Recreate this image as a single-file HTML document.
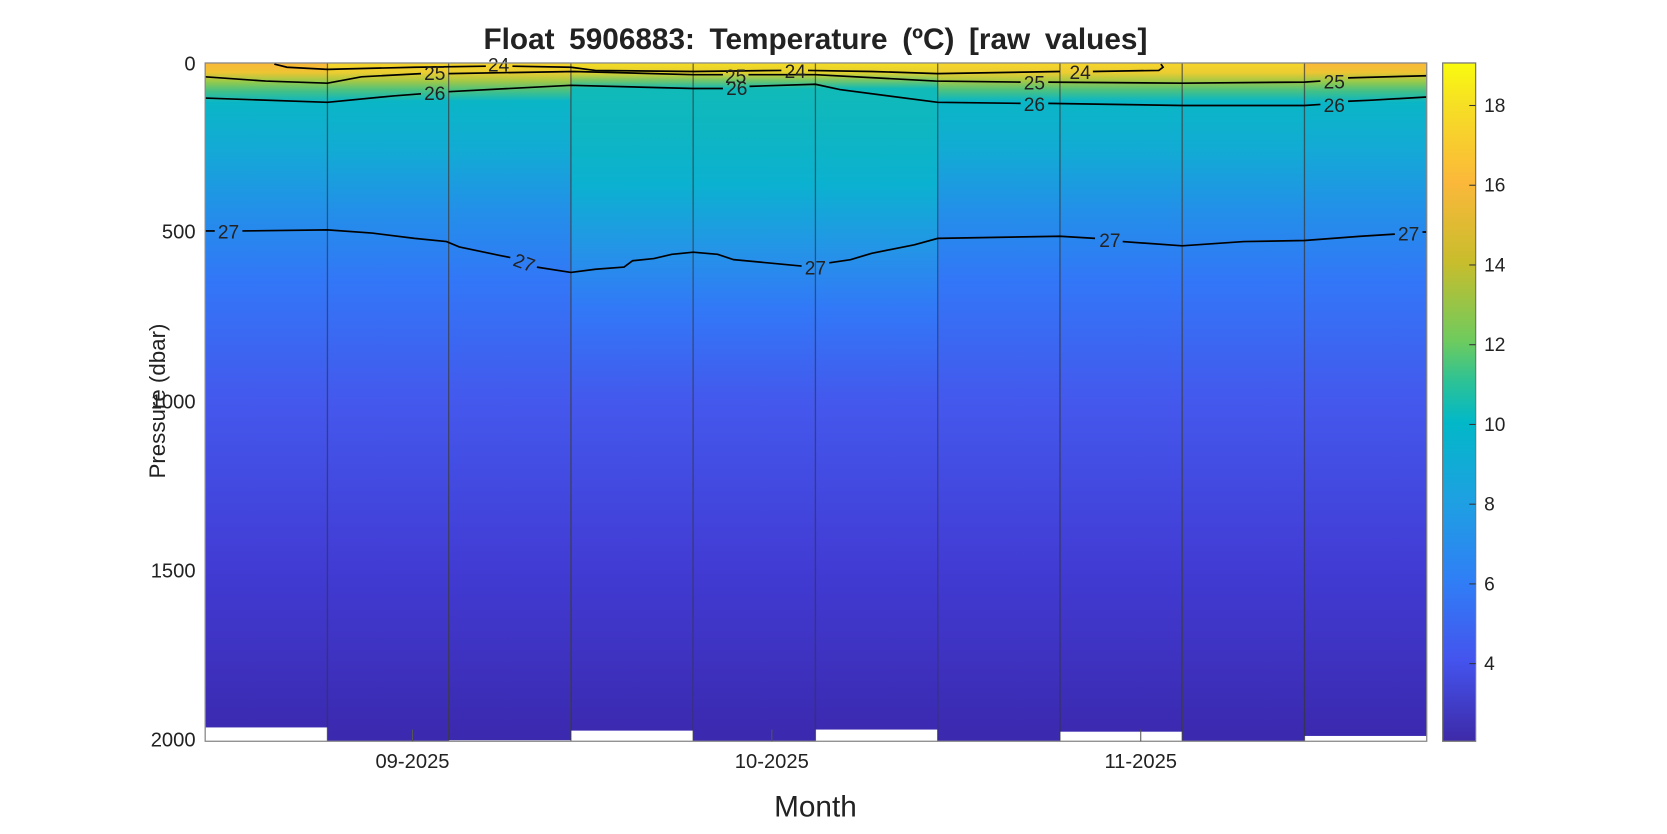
<!DOCTYPE html>
<html><head><meta charset="utf-8"><style>html,body{margin:0;padding:0;background:#fff}svg{display:block}</style></head>
<body>
<svg width="1667" height="834" viewBox="0 0 1568 784" xmlns="http://www.w3.org/2000/svg" font-family="Liberation Sans, sans-serif">
<defs>
<linearGradient id="g" gradientUnits="userSpaceOnUse" x1="0" y1="59" x2="0" y2="697">
<stop offset="0" stop-color="#f6d52a"/>
<stop offset="0.014" stop-color="#eccd32"/>
<stop offset="0.026" stop-color="#a8c843"/>
<stop offset="0.04" stop-color="#4cc27f"/>
<stop offset="0.056" stop-color="#0ab6c6"/>
<stop offset="0.13" stop-color="#12abd4"/>
<stop offset="0.22" stop-color="#238fe9"/>
<stop offset="0.32" stop-color="#3277f7"/>
<stop offset="0.5" stop-color="#4458ed"/>
<stop offset="0.75" stop-color="#413bd3"/>
<stop offset="1" stop-color="#3b29ae"/>
</linearGradient>
<linearGradient id="g2" gradientUnits="userSpaceOnUse" x1="0" y1="59" x2="0" y2="697">
<stop offset="0" stop-color="#f6dc25"/>
<stop offset="0.014" stop-color="#e4d02e"/>
<stop offset="0.026" stop-color="#70c66a"/>
<stop offset="0.038" stop-color="#10bab8"/>
<stop offset="0.18" stop-color="#0bb1d0"/>
<stop offset="0.27" stop-color="#2396e6"/>
<stop offset="0.36" stop-color="#3179f7"/>
<stop offset="0.5" stop-color="#4458ed"/>
<stop offset="0.75" stop-color="#413bd3"/>
<stop offset="1" stop-color="#3b29ae"/>
</linearGradient>
<linearGradient id="g3" gradientUnits="userSpaceOnUse" x1="0" y1="59" x2="0" y2="697">
<stop offset="0" stop-color="#fbb83a"/>
<stop offset="0.014" stop-color="#eec432"/>
<stop offset="0.028" stop-color="#94ca4c"/>
<stop offset="0.042" stop-color="#40c089"/>
<stop offset="0.058" stop-color="#0ab6c6"/>
<stop offset="0.13" stop-color="#14a9d6"/>
<stop offset="0.22" stop-color="#238fe9"/>
<stop offset="0.32" stop-color="#3277f7"/>
<stop offset="0.5" stop-color="#4458ed"/>
<stop offset="0.75" stop-color="#413bd3"/>
<stop offset="1" stop-color="#3b29ae"/>
</linearGradient>
<linearGradient id="cb" x1="0" y1="0" x2="0" y2="1">
<stop offset="0" stop-color="#f9fb0e"/>
<stop offset="0.06" stop-color="#f6e024"/>
<stop offset="0.176" stop-color="#fbb83a"/>
<stop offset="0.294" stop-color="#c8bd2c"/>
<stop offset="0.41" stop-color="#6ecb5e"/>
<stop offset="0.47" stop-color="#2cc296"/>
<stop offset="0.53" stop-color="#02b8c8"/>
<stop offset="0.647" stop-color="#1ea0e2"/>
<stop offset="0.765" stop-color="#307ef6"/>
<stop offset="0.88" stop-color="#4454ee"/>
<stop offset="1" stop-color="#3d2aa8"/>
</linearGradient>
</defs>

<text x="767" y="46" text-anchor="middle" font-size="28" font-weight="bold" fill="#222" word-spacing="6">Float 5906883: Temperature (ºC) [raw values]</text>

<rect x="193" y="59" width="115" height="625" fill="url(#g3)"/>
<rect x="308" y="59" width="114" height="638" fill="url(#g)"/>
<rect x="422" y="59" width="115" height="637" fill="url(#g)"/>
<rect x="537" y="59" width="115" height="628" fill="url(#g2)"/>
<rect x="652" y="59" width="115" height="638" fill="url(#g2)"/>
<rect x="767" y="59" width="115" height="627" fill="url(#g2)"/>
<rect x="882" y="59" width="115" height="638" fill="url(#g)"/>
<rect x="997" y="59" width="115" height="629" fill="url(#g)"/>
<rect x="1112" y="59" width="115" height="638" fill="url(#g)"/>
<rect x="1227" y="59" width="115" height="633" fill="url(#g3)"/>

<g stroke="#333" stroke-opacity="0.7" stroke-width="1.2">
<line x1="308" y1="59" x2="308" y2="697"/><line x1="422" y1="59" x2="422" y2="697"/>
<line x1="537" y1="59" x2="537" y2="697"/><line x1="652" y1="59" x2="652" y2="697"/>
<line x1="767" y1="59" x2="767" y2="697"/><line x1="882" y1="59" x2="882" y2="697"/>
<line x1="997" y1="59" x2="997" y2="697"/><line x1="1112" y1="59" x2="1112" y2="697"/>
<line x1="1227" y1="59" x2="1227" y2="697"/>
</g>

<g fill="none" stroke="#000" stroke-width="1.6">
<polyline points="258,60 270,63 308,65 390,63 457,62"/>
<polyline points="482,62 537,63 560,66 652,67 735,66"/>
<polyline points="760,66 820,67 882,69 997,67"/>
<polyline points="1028,67 1090,66 1094,63 1092,60"/>
<polyline points="193,72 250,76 308,78 340,72 396,69"/>
<polyline points="422,69 540,67 652,70 680,70"/>
<polyline points="704,70 767,70 880,76 960,77"/>
<polyline points="986,77 1112,78 1227,77 1242,76"/>
<polyline points="1268,73 1342,71"/>
<polyline points="193,92 308,96 370,90 396,88"/>
<polyline points="422,86 537,80 652,83 680,83"/>
<polyline points="705,81 767,79 790,84 882,96 960,97"/>
<polyline points="986,97 1112,99 1227,99 1242,98"/>
<polyline points="1268,95 1290,94 1342,91"/>
<polyline points="193,217 202,217"/>
<polyline points="228,217 308,216 350,219 390,224 420,227 432,232 470,240 480,242"/>
<polyline points="505,251 537,256 560,253 587,251 595,245 615,243 632,239 652,237 675,239 690,244 754,250"/>
<polyline points="780,247 800,244 820,238 860,230 882,224 997,222 1030,224"/>
<polyline points="1056,227 1112,231 1170,227 1227,226 1280,222 1312,220"/>
<polyline points="1338,218 1342,218"/>
</g>
<g font-size="18" fill="#222" text-anchor="middle">
<text x="469" y="67">24</text><text x="748" y="73">24</text><text x="1016" y="74">24</text>
<text x="409" y="75">25</text><text x="692" y="78">25</text><text x="973" y="84">25</text><text x="1255" y="83">25</text>
<text x="409" y="94">26</text><text x="693" y="89">26</text><text x="973" y="104">26</text><text x="1255" y="105">26</text>
<text x="215" y="224">27</text><text x="493" y="253" transform="rotate(20 493 247)">27</text><text x="767" y="258">27</text><text x="1044" y="232">27</text><text x="1325" y="226">27</text>
</g>

<rect x="193" y="59" width="1149" height="638" fill="none" stroke="#888" stroke-width="1.2"/>
<g stroke="#555" stroke-width="1">
<line x1="388" y1="697" x2="388" y2="686"/><line x1="726" y1="697" x2="726" y2="686"/><line x1="1073" y1="697" x2="1073" y2="686"/>
</g>
<g font-size="19" fill="#222" text-anchor="end">
<text x="184" y="66">0</text><text x="184" y="224">500</text><text x="184" y="384">1000</text><text x="184" y="543">1500</text><text x="184" y="702">2000</text>
</g>
<g font-size="19" fill="#222" text-anchor="middle">
<text x="388" y="722">09-2025</text><text x="726" y="722">10-2025</text><text x="1073" y="722">11-2025</text>
</g>
<text x="767" y="768" text-anchor="middle" font-size="28" fill="#222">Month</text>
<text transform="translate(155 377) rotate(-90)" text-anchor="middle" font-size="21" fill="#222">Pressure (dbar)</text>

<rect x="1357" y="59" width="31" height="638" fill="url(#cb)" stroke="#777" stroke-width="1.2"/>
<g stroke="#333" stroke-width="1">
<line x1="1382" y1="99" x2="1388" y2="99"/><line x1="1382" y1="174" x2="1388" y2="174"/><line x1="1382" y1="249" x2="1388" y2="249"/>
<line x1="1382" y1="324" x2="1388" y2="324"/><line x1="1382" y1="399" x2="1388" y2="399"/><line x1="1382" y1="474" x2="1388" y2="474"/>
<line x1="1382" y1="549" x2="1388" y2="549"/><line x1="1382" y1="624" x2="1388" y2="624"/>
</g>
<g font-size="18" fill="#222">
<text x="1396" y="105">18</text><text x="1396" y="180">16</text><text x="1396" y="255">14</text><text x="1396" y="330">12</text>
<text x="1396" y="405">10</text><text x="1396" y="480">8</text><text x="1396" y="555">6</text><text x="1396" y="630">4</text>
</g>
</svg>
</body></html>
